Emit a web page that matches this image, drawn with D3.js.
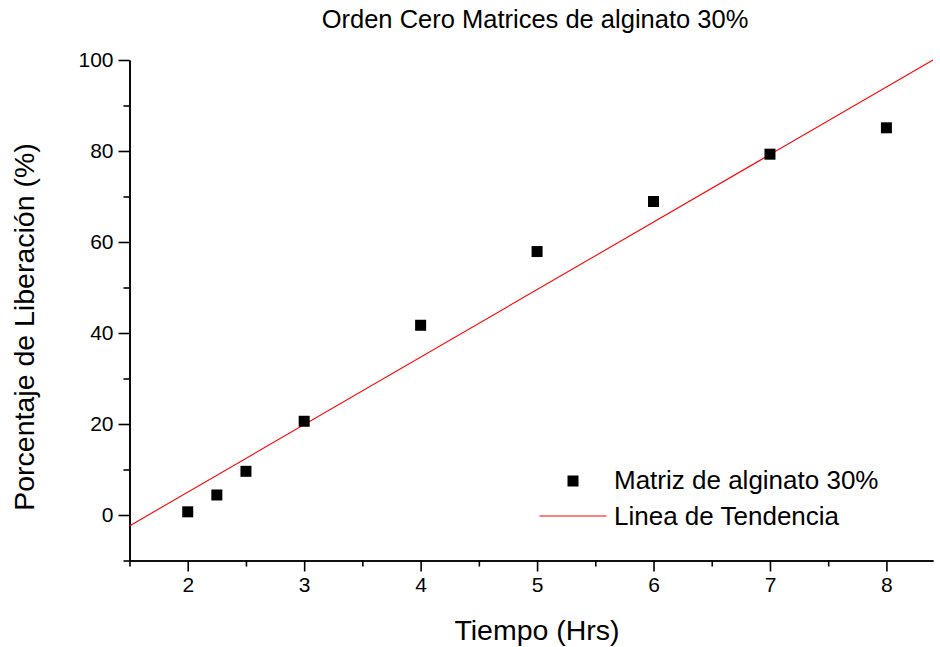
<!DOCTYPE html>
<html>
<head>
<meta charset="utf-8">
<script src="https://cdn.jsdelivr.net/npm/d3@7"></script>
<style>
  html, body { margin: 0; padding: 0; background: #fff; }
  svg { display: block; font-family: "Liberation Sans", Arial, sans-serif; }
</style>
</head>
<body>
<svg id="chart" width="940" height="647"></svg>
<script>
// Release data: time (h) vs. percentage released
const tiempo = [2, 2.25, 2.5, 3, 4, 5, 6, 7, 8];
const liberacion = [0.7, 4.4, 9.6, 20.6, 41.7, 57.9, 68.9, 79.3, 85.1];

// Linear trend line endpoints (x, y)
const trendX = [1.5, 8.4];
const trendY = [-2.4, 100];

const xTicks = [2, 3, 4, 5, 6, 7, 8];
const xMinor = [1.5, 2.5, 3.5, 4.5, 5.5, 6.5, 7.5];
const yTicks = [0, 20, 40, 60, 80, 100];
const yMinor = [-10, 10, 30, 50, 70, 90];

const titleText = "Orden Cero Matrices de alginato 30%";
const xTitle = "Tiempo (Hrs)";
const yTitle = "Porcentaje de Liberación (%)";
const legendLabels = ["Matriz de alginato 30%", "Linea de Tendencia"];

const svg = d3.select("#chart");
const plotLeft = 129.5, plotRight = 933, plotTop = 60, plotBottom = 560.5;

const x = d3.scaleLinear().domain([1.5, 8.4]).range([plotLeft, plotRight]);
const y = d3.scaleLinear().domain([-10, 100]).range([plotBottom, plotTop]);

// Axes
const xAxis = d3.axisBottom(x).tickValues(xTicks).tickSize(11).tickSizeOuter(0).tickPadding(6).tickFormat(d3.format("d"));
const yAxis = d3.axisLeft(y).tickValues(yTicks).tickSize(11).tickSizeOuter(0).tickPadding(5).tickFormat(d3.format("d"));

svg.append("g").attr("transform", `translate(0,${plotBottom})`).call(xAxis);
svg.append("g").attr("transform", `translate(${plotLeft},0)`).call(yAxis);

// Minor ticks
svg.append("g").attr("transform", `translate(0,${plotBottom})`)
  .call(d3.axisBottom(x).tickValues(xMinor).tickSize(6).tickSizeOuter(0).tickFormat(""));
svg.append("g").attr("transform", `translate(${plotLeft},0)`)
  .call(d3.axisLeft(y).tickValues(yMinor).tickSize(6).tickSizeOuter(0).tickFormat(""));

svg.selectAll(".domain, .tick line").attr("stroke", "#000").attr("stroke-width", 1.6);
svg.selectAll(".tick text").attr("fill", "#000").style("font-size", "21px")
  .style("font-family", "'Liberation Sans', Arial, sans-serif");

// Trend line
svg.append("line")
  .attr("x1", x(trendX[0])).attr("y1", y(trendY[0]))
  .attr("x2", x(trendX[1])).attr("y2", y(trendY[1]))
  .attr("stroke", "#ff0000").attr("stroke-width", 1.1);

// Data points
const sz = 11;
svg.append("g").selectAll("rect")
  .data(tiempo.map((t, i) => [t, liberacion[i]]))
  .join("rect")
  .attr("x", d => x(d[0]) - sz / 2)
  .attr("y", d => y(d[1]) - sz / 2)
  .attr("width", sz).attr("height", sz)
  .attr("fill", "#000");

// Titles
svg.append("text").attr("x", 535).attr("y", 28).attr("text-anchor", "middle")
  .style("font-size", "25.5px").text(titleText);
svg.append("text").attr("x", 537).attr("y", 640).attr("text-anchor", "middle")
  .style("font-size", "28.5px").text(xTitle);
svg.append("text").attr("transform", "translate(34,327) rotate(-90)").attr("text-anchor", "middle")
  .style("font-size", "28.5px").text(yTitle);

// Legend
const lg = svg.append("g");
lg.append("rect").attr("x", 573 - sz / 2).attr("y", 481 - sz / 2).attr("width", sz).attr("height", sz).attr("fill", "#000");
lg.append("text").attr("x", 614).attr("y", 489).style("font-size", "26px").text(legendLabels[0]);
lg.append("line").attr("x1", 539.5).attr("x2", 606.5).attr("y1", 516).attr("y2", 516)
  .attr("stroke", "#ff0000").attr("stroke-width", 1.1);
lg.append("text").attr("x", 614).attr("y", 525).style("font-size", "26px").text(legendLabels[1]);
</script>
</body>
</html>
